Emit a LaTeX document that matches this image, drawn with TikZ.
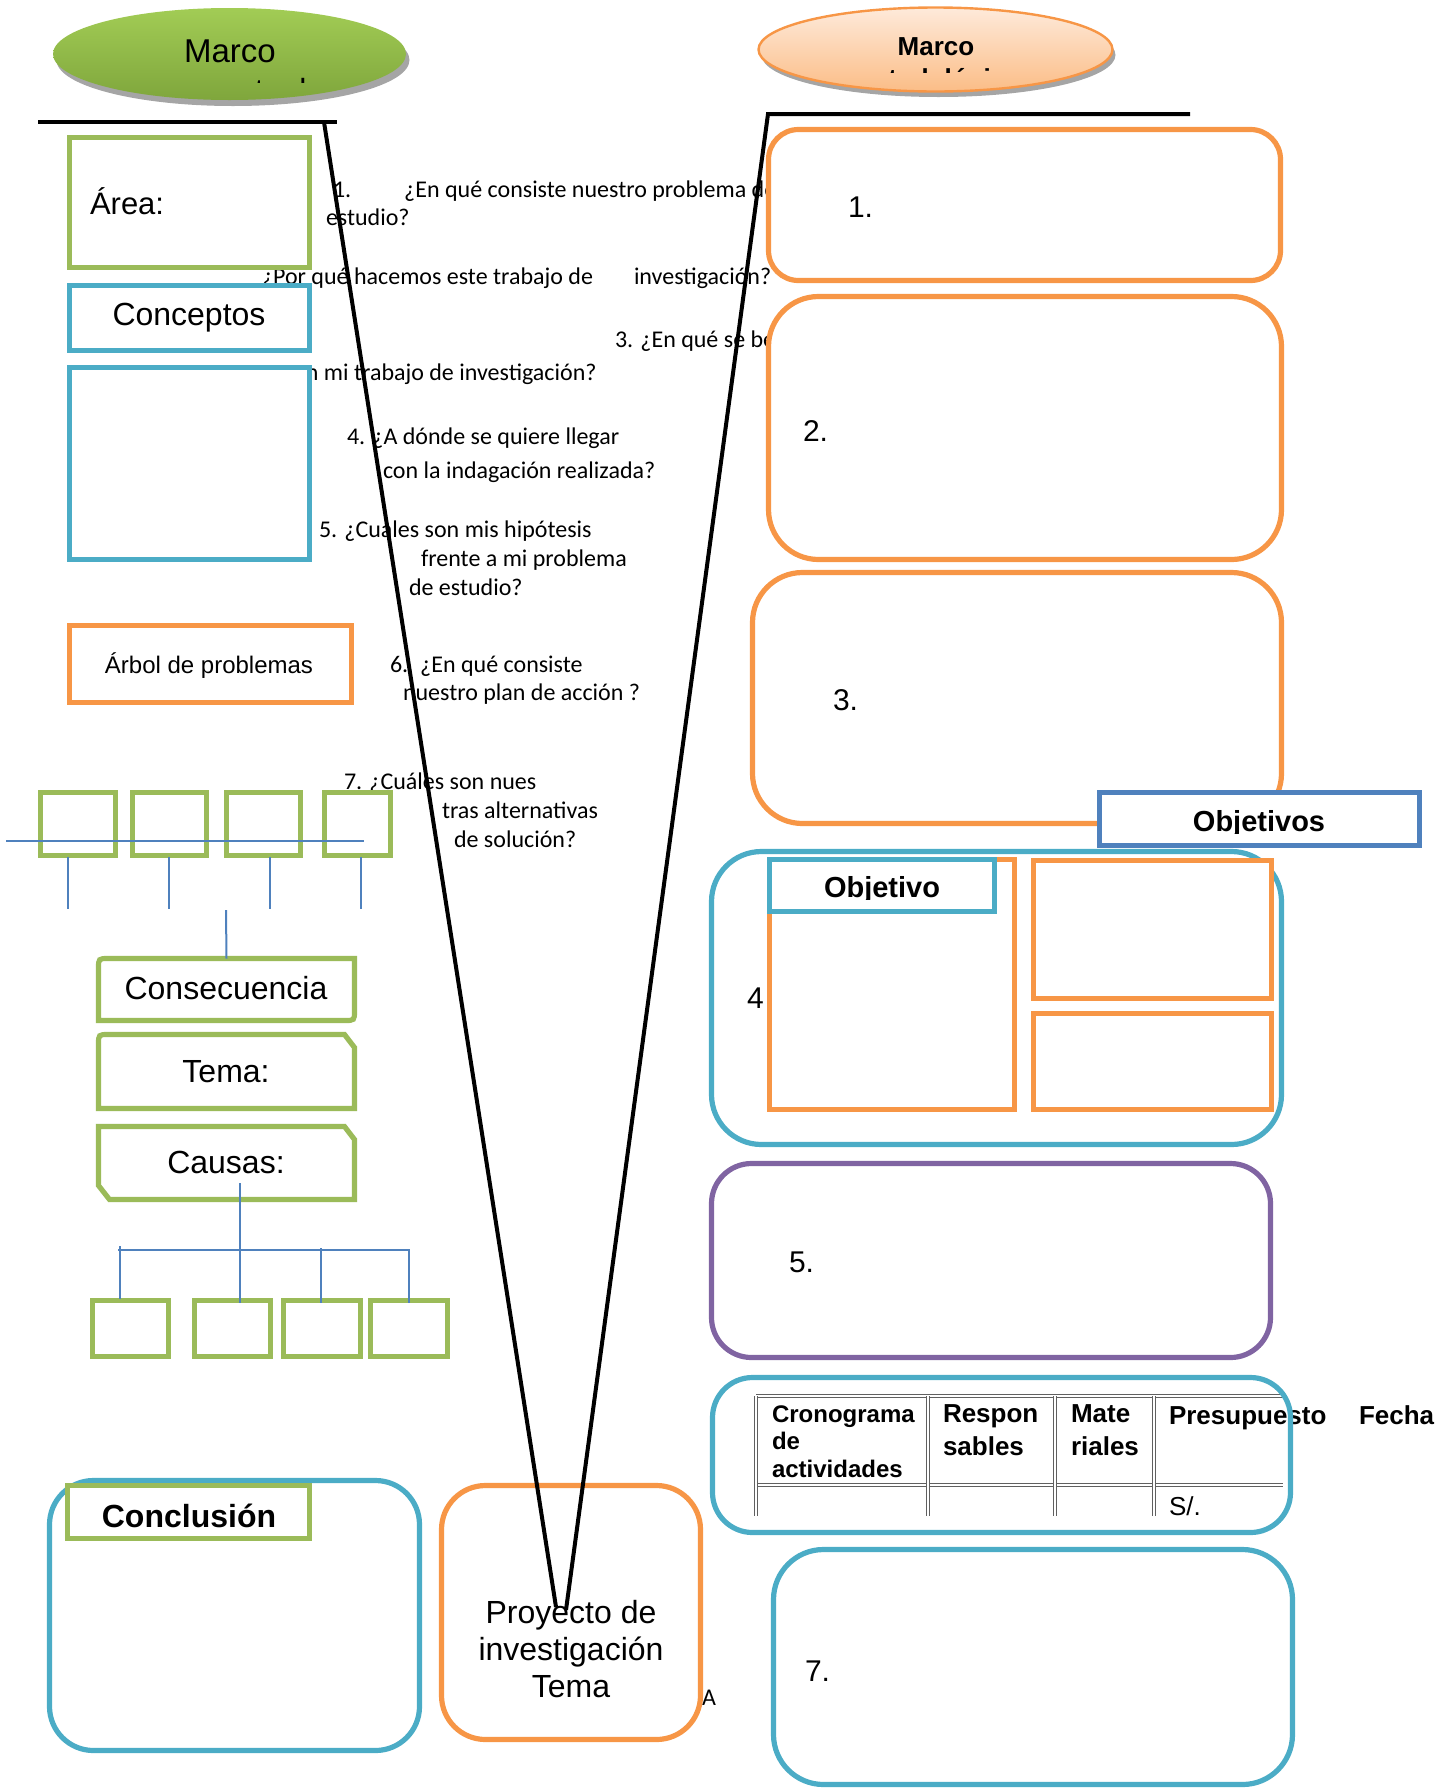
\documentclass[tikz,border=0pt]{standalone}
\usepackage{fontspec}
\setmainfont{Liberation Sans}
\newfontfamily\calibrifont{Carlito}
\usetikzlibrary{shapes.geometric}
\definecolor{grn}{HTML}{9BBB59}
\definecolor{aqua}{HTML}{4BACC6}
\definecolor{org}{HTML}{F79646}
\definecolor{purp}{HTML}{8064A2}
\definecolor{dblue}{HTML}{4F81BD}
\definecolor{shad}{HTML}{A5A5A5}
\definecolor{gtop}{HTML}{A2CC55}
\definecolor{gbot}{HTML}{7FA63C}
\definecolor{otop}{HTML}{FEEADB}
\definecolor{obot}{HTML}{FBBD86}
\begin{document}
\begin{tikzpicture}[x=0.5pt,y=-0.5pt,
  boxn/.style={rectangle, inner sep=0pt, outer sep=0pt},
  gbox/.style={boxn, draw=grn, line width=2.6pt, fill=white},
  bbox/.style={boxn, draw=aqua, line width=2.6pt, fill=white},
  obox/.style={boxn, draw=org, line width=2.6pt, fill=white},
  conn/.style={draw=dblue, line width=1pt},
  vline/.style={draw=black, line width=2pt},
  lbl/.style={inner sep=0pt, outer sep=0pt, anchor=base},
  qtext/.style={inner sep=0pt, outer sep=0pt, anchor=base west, font=\calibrifont\fontsize{12}{14}\selectfont},
  ttext/.style={inner sep=0pt, outer sep=0pt, anchor=base west, font=\bfseries\fontsize{13}{15}\selectfont},
  tsmall/.style={inner sep=0pt, outer sep=0pt, anchor=base west, font=\bfseries\fontsize{12}{14}\selectfont},
  num/.style={inner sep=0pt, outer sep=0pt, anchor=base west, font=\fontsize{15}{18}\selectfont},
  big/.style={font=\fontsize{16}{19}\selectfont},
  tline/.style={draw=gray!75!black, line width=0.5pt, double=white, double distance=1pt}
]
\useasboundingbox (0,0) rectangle (1441,1789);

% ---------- ellipses ----------
\node[ellipse, fill=shad, minimum width=176.5pt, minimum height=46pt, inner sep=0pt] (mcsh) at (233,60) {};
\node[ellipse, top color=gtop, bottom color=gbot, minimum width=176.5pt, minimum height=46pt, inner sep=0pt] (mc) at (229.5,54) {};
\node[lbl, font=\fontsize{16.5}{19}\selectfont] (mct) at (230,62) {Marco};
\begin{scope}
  \clip (60,60) rectangle (400,82);
  \node[lbl, big] (mct2) at (229,101.5) {conceptual};
\end{scope}

\node[ellipse, fill=shad, minimum width=177pt, minimum height=42pt, inner sep=0pt] (mmsh) at (938.5,55) {};
\node[ellipse, top color=otop, bottom color=obot, draw=org, line width=1.2pt, minimum width=177pt, minimum height=42pt, inner sep=0pt] (mm) at (935.5,49.5) {};
\node[lbl, font=\bfseries\fontsize{13}{15.5}\selectfont] (mmt) at (936,55) {Marco};
\begin{scope}
  \clip (800,58) rectangle (1080,72);
  \node[lbl, font=\bfseries\fontsize{13}{15.5}\selectfont] (mmt2) at (936,87) {metodológico};
\end{scope}

% ---------- questions ----------
\node[qtext] (q1a) at (333,197) {1.\hspace{26.5pt}¿En qué consiste nuestro problema de};
\node[qtext] (q1b) at (326,225) {estudio?};
\node[qtext] (q2) at (262,284) {¿Por qué hacemos este trabajo de\hspace{20.5pt}investigación?};
\node[qtext] (q3a) at (615,347) {3. ¿En qué se beneficia};
\node[qtext] (q3b) at (294,380) {en mi trabajo de investigación?};
\node[qtext] (q4a) at (347,444) {4. ¿A dónde se quiere llegar};
\node[qtext] (q4b) at (383,478) {con la indagación realizada?};
\node[qtext] (q5a) at (319,537) {5. ¿Cuales son mis hipótesis};
\node[qtext] (q5b) at (421,566) {frente a mi problema};
\node[qtext] (q5c) at (409,595) {de estudio?};
\node[qtext] (q6a) at (390,672) {6.\hspace{6pt}¿En qué consiste};
\node[qtext] (q6b) at (403,700) {nuestro plan de acción ?};
\node[qtext] (q7a) at (344,789) {7. ¿Cuáles son nues};
\node[qtext] (q7b) at (442,818) {tras alternativas};
\node[qtext] (q7c) at (454,847) {de solución?};
\node[qtext] (atxt) at (702,1705) {A};

% ---------- left column ----------
\node[gbox, minimum width=120pt, minimum height=65pt] (area) at (189.5,202.5) {};
\node[lbl, anchor=base west, font=\fontsize{15.5}{18}\selectfont] (areat) at (90,214) {Área:};
\node[bbox, minimum width=120pt, minimum height=32.5pt] (concep) at (189.5,318) {};
\node[lbl, big] (conceptt) at (189,325) {Conceptos};
\node[bbox, minimum width=120pt, minimum height=96pt] (blank) at (189.5,463.5) {};
\node[obox, minimum width=141pt, minimum height=38.5pt] (arbol) at (210.5,664) {};
\node[lbl, font=\fontsize{12}{14}\selectfont] (arbolt) at (209,673) {Árbol de problemas};

\node[gbox, minimum width=37.5pt, minimum height=31.5pt] (g1) at (78,824) {};
\node[gbox, minimum width=37pt, minimum height=31.5pt] (g2) at (169.5,824) {};
\node[gbox, minimum width=37pt, minimum height=31.5pt] (g3) at (263.5,824) {};
\node[gbox, minimum width=33pt, minimum height=31.5pt] (g4) at (357.5,824) {};

\node[boxn, minimum width=128pt, minimum height=31pt] (cons) at (226.5,989.5) {};
\draw[draw=grn, line width=2.6pt, fill=white] (cons.south west) -- ([yshift=-5pt]cons.north west) .. controls (cons.north west) .. ([xshift=5pt]cons.north west) -- (cons.north east) -- ([yshift=5pt]cons.south east) .. controls (cons.south east) .. ([xshift=-5pt]cons.south east) -- cycle;
\node[lbl, big] (const) at (226,999) {Consecuencia};

\node[boxn, minimum width=128pt, minimum height=37pt] (tema) at (226.5,1071.5) {};
\draw[draw=grn, line width=2.6pt, fill=white] (tema.south west) -- ([yshift=-5pt]tema.north west) .. controls (tema.north west) .. ([xshift=5pt]tema.north west) -- ([xshift=-5pt]tema.north east) -- ([yshift=-6.5pt]tema.north east) -- (tema.south east) -- cycle;
\node[lbl, big] (temat) at (226,1082) {Tema:};

\node[boxn, minimum width=128pt, minimum height=36.5pt] (causas) at (226.5,1163) {};
\draw[draw=grn, line width=2.6pt, fill=white] ([yshift=7pt]causas.south west) -- (causas.north west) -- ([xshift=-5pt]causas.north east) -- ([yshift=-6.5pt]causas.north east) -- (causas.south east) -- ([xshift=5.5pt]causas.south west) -- cycle;
\node[lbl, big] (causast) at (226,1173) {Causas:};

\node[gbox, minimum width=38pt, minimum height=28pt] (c1) at (130.5,1328.5) {};
\node[gbox, minimum width=38pt, minimum height=28pt] (c2) at (232.5,1328.5) {};
\node[gbox, minimum width=38.5pt, minimum height=28pt] (c3) at (322,1328.5) {};
\node[gbox, minimum width=38.5pt, minimum height=28pt] (c4) at (409,1328.5) {};

% blue connectors (tree)
\coordinate (h1a) at (6,841); \coordinate (h1b) at (364,841);
\draw[conn] (h1a) -- (h1b);
\foreach \xx/\nm in {68/va,169/vb,270/vc,361/vd}{
  \coordinate (\nm0) at (\xx,857); \coordinate (\nm1) at (\xx,909);
  \draw[conn] (\nm0) -- (\nm1);
}
\coordinate (vc0) at (226,910);
\draw[conn] (vc0) -- (cons.north);
\coordinate (ct0) at (240,1183); \coordinate (ct1) at (240,1303);
\draw[conn] (ct0) -- (ct1);
\coordinate (h2a) at (118,1250); \coordinate (h2b) at (410,1250);
\draw[conn] (h2a) -- (h2b);
\coordinate (k10) at (120,1246); \coordinate (k11) at (120,1299);
\coordinate (k20) at (321,1248); \coordinate (k21) at (321,1303);
\coordinate (k30) at (409,1250); \coordinate (k31) at (409,1303);
\draw[conn] (k10) -- (k11);
\draw[conn] (k20) -- (k21);
\draw[conn] (k30) -- (k31);

% conclusion + proyecto
\node[bbox, rounded corners=22pt, minimum width=185pt, minimum height=135pt] (concl) at (234.5,1615.5) {};
\node[gbox, minimum width=121pt, minimum height=26.5pt] (conclb) at (188.5,1512) {};
\node[lbl, font=\bfseries\fontsize{16}{19}\selectfont] (conclt) at (189,1527) {Conclusión};
\node[obox, rounded corners=22pt, minimum width=129.5pt, minimum height=127pt] (proy) at (571,1612.5) {};
\node[lbl, big] (proy1) at (571,1623) {Proyecto de};
\node[lbl, big] (proy2) at (571,1660) {investigación};
\node[lbl, big] (proy3) at (571,1697) {Tema};

% ---------- right column ----------
\node[obox, rounded corners=15pt, minimum width=256pt, minimum height=75.5pt] (b1) at (1024.5,205) {};
\node[num] (b1t) at (848,217) {1.};
\node[obox, rounded corners=25pt, minimum width=256.5pt, minimum height=131.5pt] (b2) at (1025,428) {};
\node[num] (b2t) at (803,441) {2.};
\node[obox, rounded corners=25pt, minimum width=264.5pt, minimum height=125.5pt] (b3) at (1017,698) {};
\node[num] (b3t) at (833,710) {3.};

\node[bbox, rounded corners=25pt, minimum width=285pt, minimum height=146.5pt] (b4) at (996.5,998) {};
\node[num] (b4t) at (747,1008) {4};
\node[obox, minimum width=122.5pt, minimum height=125pt] (o4l) at (892,984.5) {};
\node[bbox, minimum width=112.5pt, minimum height=26pt] (objl) at (882,885.5) {};
\begin{scope}
  \clip (770,860) rectangle (995,899);
  \node[lbl, font=\bfseries\fontsize{14.5}{17}\selectfont] (objlt) at (882,897) {Objetivo};
\end{scope}
\node[obox, minimum width=119pt, minimum height=69pt] (o4ru) at (1152.5,929.5) {};
\node[obox, minimum width=119pt, minimum height=48pt] (o4rl) at (1152.5,1061.5) {};

\node[boxn, draw=dblue, line width=2.6pt, fill=white, minimum width=160pt, minimum height=26.5pt] (objs) at (1259.5,819) {};
\begin{scope}
  \clip (1100,793) rectangle (1420,833);
  \node[lbl, font=\bfseries\fontsize{14.5}{17}\selectfont] (objst) at (1259,831) {Objetivos};
\end{scope}

\node[boxn, draw=purp, line width=2.6pt, rounded corners=20pt, minimum width=279.5pt, minimum height=97pt] (b5) at (991,1260.5) {};
\node[num] (b5t) at (789,1272) {5.};

% table
\coordinate (t00) at (756,1396); \coordinate (t01) at (1283,1396);
\coordinate (t10) at (756,1485); \coordinate (t11) at (1283,1485);
\draw[tline] (t00) -- (t01);
\draw[tline] (t10) -- (t11);
\foreach \xx/\nm in {756/ca,928/cb,1055/cc,1154/cd}{
  \coordinate (\nm0) at (\xx,1396); \coordinate (\nm1) at (\xx,1516);
  \draw[tline] (\nm0) -- (\nm1);
}
\node[tsmall] (tc1) at (772,1422) {Cronograma};
\node[tsmall] (tc2) at (772,1449) {de};
\node[tsmall] (tc3) at (772,1477) {actividades};
\node[ttext] (tr1) at (943,1422) {Respon};
\node[ttext] (tr2) at (943,1455) {sables};
\node[ttext] (tm1) at (1071,1422) {Mate};
\node[ttext] (tm2) at (1071,1455) {riales};
\node[ttext] (tp) at (1169,1424) {Presupuesto};
\node[ttext] (tf) at (1359,1424) {Fecha};
\node[inner sep=0pt, outer sep=0pt, anchor=base west, font=\fontsize{13}{15}\selectfont] (ts) at (1169,1515) {S/.};
\node[boxn, draw=aqua, line width=2.6pt, rounded corners=20pt, minimum width=289pt, minimum height=77.5pt] (b6) at (1001.5,1455) {};

\node[bbox, rounded corners=25pt, minimum width=259.5pt, minimum height=117.5pt] (b7) at (1033,1667) {};
\node[num] (b7t) at (805,1681) {7.};

% ---------- black V ----------
\coordinate (hl0) at (38,122); \coordinate (hl1) at (337,122);
\coordinate (dl0) at (324,122); \coordinate (dl1) at (556,1607);
\coordinate (hr0) at (768,114); \coordinate (hr1) at (1190,114);
\coordinate (dr1) at (566,1610);
\draw[vline] (hl0) -- (hl1);
\draw[vline] (dl0) -- (dl1);
\draw[vline] (hr1) -- (hr0) -- (dr1);
\end{tikzpicture}
\end{document}
